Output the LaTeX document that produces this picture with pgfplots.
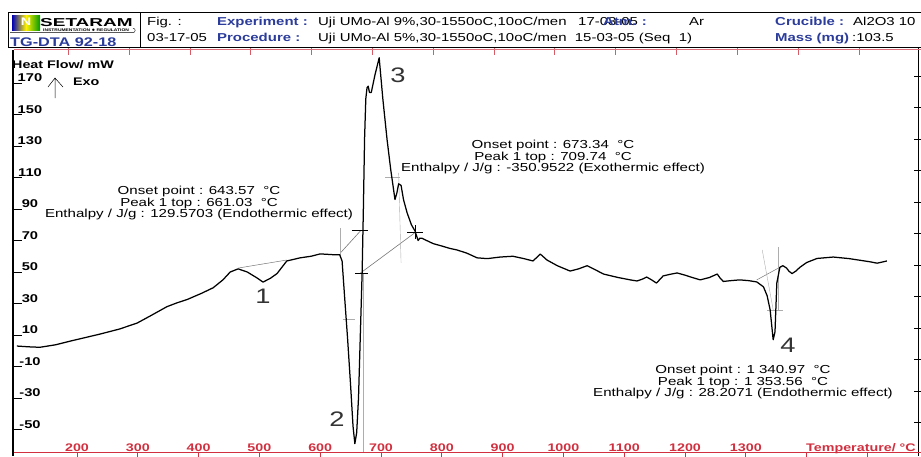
\documentclass[border=0pt]{standalone}
\usepackage{fontspec}
\setmainfont{Liberation Sans}[FakeStretch=1.3]
\newfontfamily\widefont{Liberation Sans}[FakeStretch=1.65]
\usepackage{pgfplots}
\pgfplotsset{compat=1.18}
\usepackage{pgfplotstable}
\definecolor{hdrblue}{HTML}{2B3C9B}
\definecolor{tickred}{HTML}{D0303F}
\definecolor{cons}{HTML}{777777}

\pgfplotstableread{
T v
101 3
120 2.5
139 2.2
165 3.8
193 6.5
215 8.5
238 10.6
270 13.8
299 17.6
320 22
348 28
365 30.5
381 32.5
405 36.5
424 40
440 45
452 50
465 52
480 50
495 46.5
506 43.6
518 46
529 49
545 57
567 59
585 60
600 61.5
621 61
632 61
636 57
640 35
645 8
650 -22
654 -48
657 -59
660 -52
663 -30
666 10
669 50
671 90
673 135
675 160
677 167
679 168
681 164
684 164
690 175
697 186
703 160
710 134
716 115
723 96
726 100
729 106
733 105
737 96
743 87.5
750 80
756 76
761 70
764 71.5
767 71.5
775 70
786 68
800 66.5
813 65
825 64
841 62
858 59
875 58.5
896 59.5
917 60
935 58.5
950 57
962 61.4
973 57.6
990 54
1011 50.6
1025 52
1039 54
1052 51.5
1066 48.7
1090 46.5
1110 45
1121 44.3
1130 45.5
1137 46.8
1145 45
1153 43
1158 45
1164 47.5
1175 48.5
1187 49.4
1200 48
1212 46.5
1225 45
1240 46.5
1253 48.7
1258 46
1263 44
1275 44.5
1290 45
1305 44.5
1318 43.7
1329 40.6
1335 35
1340 26
1345 7
1348 12
1351 43
1356 53
1361 54
1367 52.5
1371 50.5
1376 49
1382 50.5
1389 53
1400 56
1417 58.6
1444 59.5
1470 58.5
1504 56.5
1516 55.6
1532 57
}\dta

\begin{document}
\begin{tikzpicture}[x=1pt,y=1pt]

% ---------------- main axis ----------------
\begin{axis}[at={(14pt,-47pt)}, anchor=north west, scale only axis,
  width=904pt, height=405pt,
  xmin=96.4, xmax=1583.2, ymin=-64.29, ymax=192.86,
  axis line style={draw=none},
  /pgf/number format/assume math mode=true,
  /pgf/number format/1000 sep={},
  xtick={200,300,...,1500},
  xticklabels={200,300,400,500,600,700,800,900,1000,1100,1200,1300,{},{}},
  xtick pos=lower, xtick align=outside,
  ytick={-50,-30,...,170},
  ytick pos=left, ytick align=inside,
  major tick length=8pt,
  xtick style={draw=tickred, line width=0.8pt},
  ytick style={draw=black, line width=0.9pt},
  xticklabel style={font=\fontsize{11}{13}\selectfont\bfseries, text=tickred, anchor=base, yshift=9pt},
  yticklabel style={font=\fontsize{11.3}{13}\selectfont\bfseries, text=black, anchor=south, xshift=16pt, inner sep=1pt},
]
% construction lines
\addplot[cons, line width=0.5pt] coordinates {(465,52.5) (545,57.6)};
\addplot[cons, line width=0.6pt] coordinates {(633,62) (666,76)};
\addplot[cons, line width=0.6pt] coordinates {(665,49) (756,75)};
\addplot[black, line width=0.6pt] coordinates {(652,76.2) (678,76.2)};
\addplot[black, line width=0.6pt] coordinates {(657,49.4) (679,49.4)};
\addplot[black, line width=0.6pt] coordinates {(743,75.4) (769,75.4)};
\addplot[black, line width=0.5pt] coordinates {(756,71) (756,80)};
\addplot[cons!60, line width=0.4pt] coordinates {(670,49) (670,-66)};
\addplot[cons!60, line width=0.4pt] coordinates {(729,113) (733,56)};
\addplot[cons!60, line width=0.4pt] coordinates {(633,78) (633,59)};
\addplot[cons!60, line width=0.4pt] coordinates {(637,20) (657,20)};
\addplot[cons!60, line width=0.4pt] coordinates {(707,110) (731,110)};
\addplot[cons, line width=0.5pt] coordinates {(1318,45) (1356,53)};
\addplot[cons!60, line width=0.4pt] coordinates {(1327,64) (1345,26)};
\addplot[cons!60, line width=0.4pt] coordinates {(1353,66) (1353,26)};
\addplot[cons!60, line width=0.4pt] coordinates {(1335,26) (1361,26)};
% DTA curve
\addplot[black, line width=1.25pt, line join=round] table {\dta};
\end{axis}

% ---------------- overlay axis: top and right ticks ----------------
\begin{axis}[at={(14pt,-47pt)}, anchor=north west, scale only axis,
  width=904pt, height=405pt,
  xmin=96.4, xmax=1583.2, ymin=-64.29, ymax=192.86,
  axis line style={draw=none},
  xtick={186,286,...,1486}, xticklabels={},
  xtick pos=upper, xtick align=inside,
  ytick={-45.6,-25.6,...,174.4}, yticklabels={},
  ytick pos=upper, ytick align=center,
  major tick length=8pt,
  xtick style={draw=tickred!80, line width=0.8pt},
  ytick style={draw=black, line width=0.8pt},
]
\addplot[draw=none] coordinates {(200,0)};
\end{axis}

% ---------------- frame lines ----------------
\draw[black, line width=1.5pt] (13,-50) -- (13,-456);
\draw[black, line width=0.9pt] (918,-47) -- (918,-456);
\draw[tickred, line width=0.7pt] (14,-452) -- (921,-452);
\draw[tickred!70, line width=0.5pt] (14,-49.5) -- (921,-49.5);

% ---------------- header ----------------
\draw[black, line width=0.9pt] (8,-12.5) -- (921,-12.5);
\draw[black, line width=1pt] (8,-47) -- (921,-47);
\draw[black, line width=0.9pt] (8,-12.5) -- (8,-47);
\draw[black, line width=0.9pt] (140,-12.5) -- (140,-47);
% logo
\shade[left color=blue!70!black, right color=yellow!90!orange] (12,-15) rectangle (26,-30);
\shade[left color=yellow!90!orange, right color=green!60!black] (26,-15) rectangle (40,-30);
\node[anchor=center, text=white, font=\fontsize{11}{11}\selectfont\bfseries] at (26,-22) {N};
\node[anchor=base west, inner sep=0pt, font=\widefont\fontsize{11.5}{12}\selectfont\bfseries] at (40,-26) {SETARAM};
\node[anchor=base west, inner sep=0pt, font=\fontsize{3.8}{4}\selectfont\bfseries] at (43,-31.4) {INSTRUMENTATION $\bullet$ REGULATION};
\draw[black, line width=0.4pt] (10,-32.6) -- (133,-32.6) arc[start angle=-90, end angle=90, radius=2.2];
\node[anchor=base west, inner sep=0pt, text=hdrblue, font=\fontsize{12.5}{13}\selectfont\bfseries] at (10,-46) {TG-DTA 92-18};
% row 1
\node[anchor=base west, inner sep=0pt, font=\fontsize{11.5}{12}\selectfont] at (147,-25) {Fig. :};
\node[anchor=base west, inner sep=0pt, text=hdrblue, font=\fontsize{11.5}{12}\selectfont\bfseries] at (217,-25) {Experiment :};
\node[anchor=base west, inner sep=0pt, font=\fontsize{11.5}{12}\selectfont] at (318,-25) {Uji UMo-Al 9\%,30-1550oC,10oC/men};
\node[anchor=base west, inner sep=0pt, font=\fontsize{11.5}{12}\selectfont] at (578,-25) {17-03-05};
\node[anchor=base west, inner sep=0pt, text=hdrblue, font=\fontsize{11.5}{12}\selectfont\bfseries] at (603,-25) {Atm. :};
\node[anchor=base west, inner sep=0pt, font=\fontsize{11.5}{12}\selectfont] at (689,-25) {Ar};
\node[anchor=base west, inner sep=0pt, text=hdrblue, font=\fontsize{11.5}{12}\selectfont\bfseries] at (775,-25) {Crucible :};
\node[anchor=base west, inner sep=0pt, font=\fontsize{11.5}{12}\selectfont] at (853,-25) {Al2O3 10};
% row 2
\node[anchor=base west, inner sep=0pt, font=\fontsize{11.5}{12}\selectfont] at (147,-41.5) {03-17-05};
\node[anchor=base west, inner sep=0pt, text=hdrblue, font=\fontsize{11.5}{12}\selectfont\bfseries] at (217,-41.5) {Procedure :};
\node[anchor=base west, inner sep=0pt, font=\fontsize{11.5}{12}\selectfont] at (318,-41.5) {Uji UMo-Al 5\%,30-1550oC,10oC/men\ \ 15-03-05 (Seq\ \ 1)};
\node[anchor=base west, inner sep=0pt, text=hdrblue, font=\fontsize{11.5}{12}\selectfont\bfseries] at (775,-41.5) {Mass (mg)};
\node[anchor=base west, inner sep=0pt, font=\fontsize{11.5}{12}\selectfont] at (852,-41.5) {:103.5};

% ---------------- labels in plot ----------------
\node[anchor=base west, inner sep=0pt, font=\fontsize{11}{12}\selectfont\bfseries] at (12,-68) {Heat Flow/ mW};
\draw[black, line width=0.5pt] (55,-98) -- (55,-78) (48,-87) -- (55,-78) -- (63,-87);
\node[anchor=base west, inner sep=0pt, font=\fontsize{11}{12}\selectfont\bfseries] at (73,-85) {Exo};
\node[anchor=base west, inner sep=0pt, text=tickred, font=\fontsize{11}{12}\selectfont\bfseries] at (806,-451) {Temperature/ \textdegree C};

\node[align=center, inner sep=0pt, font=\fontsize{11.6}{11.6}\selectfont] at (199,-203)
 {Onset point : 643.57\ \ \textdegree C\\Peak 1 top : 661.03\ \ \textdegree C\\Enthalpy / J/g : 129.5703 (Endothermic effect)};
\node[align=center, inner sep=0pt, font=\fontsize{11.6}{11.6}\selectfont] at (553,-157)
 {Onset point : 673.34\ \ \textdegree C\\Peak 1 top : 709.74\ \ \textdegree C\\Enthalpy / J/g : -350.9522 (Exothermic effect)};
\node[align=center, inner sep=0pt, font=\fontsize{11.6}{11.6}\selectfont] at (743,-382)
 {Onset point : 1 340.97\ \ \textdegree C\\Peak 1 top : 1 353.56\ \ \textdegree C\\Enthalpy / J/g : 28.2071 (Endothermic effect)};

\node[inner sep=0pt, text=black!80, font=\fontsize{21}{21}\selectfont] at (263,-296) {1};
\node[inner sep=0pt, text=black!80, font=\fontsize{21}{21}\selectfont] at (337,-419) {2};
\node[inner sep=0pt, text=black!80, font=\fontsize{21}{21}\selectfont] at (398,-75) {3};
\node[inner sep=0pt, text=black!80, font=\fontsize{21}{21}\selectfont] at (788,-345) {4};

\pgfresetboundingbox
\path[use as bounding box] (0,0) rectangle (921,-456);
\end{tikzpicture}
\end{document}
